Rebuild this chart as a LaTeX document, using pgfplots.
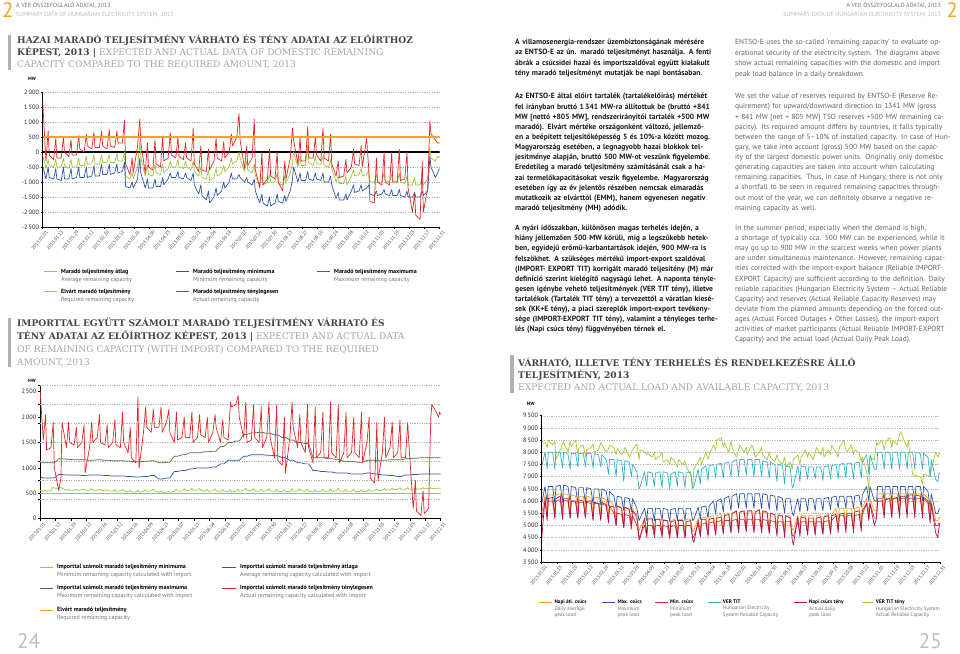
\documentclass[border=0pt]{standalone}
\usepackage{fontspec}
\setmainfont{PT Sans}
\newfontfamily\slab{DejaVu Serif}
\usepackage{pgfplots}
\usepackage{pgfplotstable}
\pgfplotsset{compat=1.18}

\definecolor{corange}{RGB}{245,165,35}
\definecolor{cred}{RGB}{224,40,42}
\definecolor{cgreen}{RGB}{160,196,55}
\definecolor{cblue}{RGB}{45,85,165}
\definecolor{colive}{RGB}{95,105,55}
\definecolor{ccyan}{RGB}{45,178,200}
\definecolor{ccrimson}{RGB}{175,22,72}
\definecolor{cred3}{RGB}{232,45,62}
\definecolor{cgreen3}{RGB}{165,200,50}
\definecolor{ctitle}{RGB}{70,70,70}
\definecolor{csub}{RGB}{165,165,165}

\newcommand\jh[1]{\makebox[205pt][s]{#1}}
\newcommand\je[1]{\makebox[208pt][s]{#1}}
\newcommand\legb{\fontsize{6}{7}\selectfont\bfseries}
\newcommand\legr{\fontsize{6}{7}\selectfont}
\newcommand\legc{\fontsize{5.2}{6.8}\selectfont}
\newcommand\legcb{\fontsize{5.2}{6.8}\selectfont\bfseries}
\newcommand\ttl{\slab\fontsize{9.1}{10}\selectfont}
\newcommand\hdr{\fontsize{6}{6.5}\selectfont}

% chart 1: domestic remaining capacity (d, actual, average, minimum)
\pgfplotstableread{
d red grn blu
0 1700 -100 -450
3 -300 -550 -900
5 700 -250 -500
6 -100 -450 -850
10 -250 -500 -900
12 450 -250 -550
13 -200 -500 -900
17 -200 -500 -950
19 500 -200 -500
20 0 -450 -900
24 -150 -550 -900
26 400 -250 -550
27 -100 -500 -900
31 -100 -500 -850
33 550 -200 -500
34 100 -450 -850
38 0 -450 -850
40 600 -150 -500
41 200 -400 -850
45 100 -400 -800
47 650 -100 -450
48 150 -400 -800
52 150 -400 -800
54 700 -100 -400
55 200 -350 -750
59 100 -350 -750
61 750 -100 -400
62 200 -350 -750
66 150 -350 -700
68 700 -50 -400
69 300 -300 -700
73 300 -300 -650
75 1050 0 -350
76 -400 -800 -1150
80 -750 -900 -1200
82 -200 -700 -1000
83 -700 -900 -1200
87 200 -500 -900
89 1100 350 -200
90 300 -200 -700
94 -700 -800 -1200
96 300 -450 -900
97 -500 -750 -1200
101 -600 -800 -1200
103 400 -400 -900
104 -400 -700 -1150
108 -500 -750 -1150
110 500 -400 -850
111 -300 -700 -1100
115 -200 -550 -900
117 650 -300 -700
118 -100 -500 -850
122 -200 -500 -850
124 500 -250 -650
125 -150 -500 -850
129 -250 -550 -900
131 300 -300 -700
132 -200 -500 -850
136 -300 -600 -950
138 800 -300 -700
139 -400 -650 -1100
143 -650 -800 -1400
145 200 -500 -1100
146 -600 -850 -1450
150 -650 -900 -1600
152 100 -600 -1300
153 -600 -950 -1700
157 -300 -850 -1500
159 450 -550 -1200
160 -200 -800 -1450
164 -300 -700 -1300
166 350 -450 -1000
167 -200 -650 -1200
171 0 -500 -1000
173 600 -200 -700
174 200 -400 -900
178 500 -300 -900
180 1280 0 -750
181 400 -200 -850
185 -550 -650 -1000
187 200 -300 -850
188 -450 -600 -1000
192 -200 -700 -1100
194 1100 -400 -900
195 -600 -800 -1300
199 -1200 -1100 -1700
201 0 -800 -1400
202 -1100 -1100 -1700
206 -900 -1000 -1800
208 100 -750 -1500
209 -800 -1000 -1800
213 -900 -1000 -1700
215 0 -700 -1400
216 -1000 -1050 -1650
220 -1300 -1100 -1700
222 -300 -800 -1450
223 -900 -1050 -1650
227 -200 -700 -1300
229 800 -400 -900
230 400 0 -500
234 -400 -500 -1000
236 500 -150 -700
237 -300 -450 -950
241 -300 -450 -950
243 850 250 -650
244 -200 -350 -900
248 -200 -450 -950
250 500 -150 -700
251 -100 -400 -900
255 -300 -400 -950
257 800 -150 -700
258 -200 -450 -1000
262 -300 -500 -1000
264 600 -250 -800
265 -400 -550 -1100
269 -800 -1000 -1550
271 -300 -800 -1350
272 -850 -1050 -1600
276 -800 -1050 -1600
278 -250 -800 -1400
279 -700 -1100 -1600
283 -500 -800 -1300
285 100 -600 -1100
286 -400 -800 -1350
290 -450 -750 -1300
292 200 -550 -1100
293 -500 -800 -1300
297 450 -750 -1200
299 -600 -600 -1100
300 -1650 -1000 -1400
304 -1700 -1000 -1450
306 -200 -750 -1300
307 -1000 -1000 -1450
311 -1100 -1000 -1400
313 0 -700 -1250
314 -1000 -950 -1400
318 -1100 -1000 -1450
320 0 -750 -1250
321 -1000 -1000 -1450
325 -1000 -1000 -1450
327 100 -700 -1250
328 -950 -1000 -1450
332 -900 -1050 -1500
334 0 -800 -1300
335 -1200 -1100 -1500
339 -2000 -1100 -1500
341 -1400 -850 -1350
342 -2100 -1100 -1500
346 -2250 -1100 -1500
348 -300 -800 -1300
349 -2000 -1100 -1450
353 -1200 -900 -1300
355 1050 150 -150
356 600 -200 -500
360 400 -300 -850
362 300 -150 -700
363 300 -200 -600
364 300 -150 -550
}\dA

% chart 2: remaining capacity with import (d, actual, minimum, average, maximum)
\pgfplotstableread{
d red mn avg mx
0 2550 560 820 1100
3 1550 540 800 1100
5 2050 560 800 1100
6 1350 540 800 1100
10 1400 560 800 1100
12 1900 620 800 1100
13 1000 600 800 1100
17 550 600 870 1180
19 800 620 870 1180
20 1900 600 870 1180
24 1400 560 860 1170
26 1900 580 860 1170
27 1500 560 860 1170
31 1450 560 860 1160
33 1800 580 860 1160
34 1400 560 860 1160
38 1500 570 850 1160
40 1850 580 850 1160
41 900 560 850 1160
45 1400 560 860 1150
47 1900 590 860 1150
48 1500 560 860 1150
52 1600 560 860 1160
54 2050 580 860 1160
55 1500 560 860 1160
59 1450 550 850 1150
61 1850 570 850 1150
62 1400 550 850 1150
66 1500 540 840 1140
68 1950 570 840 1140
69 1450 540 840 1140
73 1400 550 840 1140
75 2100 580 840 1140
76 1500 550 840 1140
80 1300 530 830 1130
82 1800 560 830 1130
83 1200 530 830 1130
87 1100 520 820 1120
89 2400 560 820 1120
90 1000 520 820 1120
94 1700 540 830 1130
96 2200 570 830 1130
97 1800 540 830 1130
101 1700 550 850 1140
103 2150 580 850 1140
104 1800 550 850 1140
108 1800 520 780 1100
110 2200 550 780 1100
111 1700 520 780 1100
115 1900 520 800 1110
117 2150 540 800 1110
118 1700 520 800 1110
122 1500 540 930 1230
124 2100 580 930 1230
125 1550 540 930 1230
129 1600 550 950 1260
131 2000 590 950 1260
132 1600 550 950 1260
136 1600 560 980 1300
138 2100 600 980 1300
139 1500 560 980 1300
143 1600 560 1000 1300
145 2050 600 1000 1300
146 1650 560 1000 1300
150 1600 540 1000 1320
152 2000 580 1000 1320
153 1500 540 1000 1320
157 1700 550 1020 1330
159 2050 590 1020 1330
160 1800 550 1020 1330
164 1500 540 1080 1420
166 1950 580 1080 1420
167 1600 540 1080 1420
171 1550 530 1150 1500
173 2300 570 1150 1500
174 2200 530 1150 1500
178 2250 540 1150 1530
180 2420 580 1150 1530
181 2000 540 1150 1530
185 1600 560 1230 1660
187 2300 600 1230 1660
188 1500 560 1230 1660
192 1550 550 1260 1690
194 2250 590 1260 1690
195 1600 550 1260 1690
199 1500 540 1260 1700
201 2200 580 1260 1700
202 1400 540 1260 1700
206 1600 550 1250 1680
208 2300 590 1250 1680
209 1600 550 1250 1680
213 1200 540 1240 1650
215 2250 580 1240 1650
216 1150 540 1240 1650
220 1050 530 1200 1600
222 2000 570 1200 1600
223 900 530 1200 1600
227 1600 540 1150 1550
229 2300 590 1150 1550
230 1800 540 1150 1550
234 1400 550 1100 1500
236 2050 590 1100 1500
237 1500 550 1100 1500
241 1300 540 1080 1480
243 2250 580 1080 1480
244 1400 540 1080 1480
248 1100 530 950 1200
250 2200 570 950 1200
251 1200 530 950 1200
255 1300 540 930 1200
257 2100 580 930 1200
258 1200 540 930 1200
262 1200 540 920 1180
264 2300 590 920 1180
265 1300 540 920 1180
269 1200 550 900 1170
271 2250 600 900 1170
272 1100 550 900 1170
276 1300 540 900 1130
278 2100 580 900 1130
279 1200 540 900 1130
283 1300 540 880 1120
285 2000 580 880 1120
286 1300 540 880 1120
290 1200 530 880 1110
292 2100 570 880 1110
293 1100 530 880 1110
297 1500 540 900 1150
299 2000 580 900 1150
300 800 540 900 1150
304 700 550 880 1150
306 1900 590 880 1150
307 750 550 880 1150
311 1300 560 860 1150
313 2000 600 860 1150
314 1200 560 860 1150
318 1400 570 850 1160
320 1900 600 850 1160
321 1200 570 850 1160
325 1300 580 830 1160
327 1950 610 830 1160
328 1200 580 830 1160
332 1200 580 860 1180
334 1900 610 860 1180
335 1500 580 860 1180
339 200 580 870 1190
341 750 610 870 1190
342 150 580 870 1190
346 60 590 880 1200
348 550 610 880 1200
349 100 590 880 1200
353 200 590 880 1200
355 2000 610 880 1200
356 2250 590 880 1200
360 2100 600 880 1200
362 2000 600 880 1200
363 2100 600 880 1200
364 2050 600 880 1200
}\dB

% chart 3: load and available capacity (d, avg peak, max peak, min peak, VER TIT, actual peak, VER TIT actual)
\pgfplotstableread{
d avg mx mn vt act vtt
0 5500 5900 5200 7400 4450 8450
3 6250 6600 6000 8000 6100 8400
5 5550 5900 5300 7300 5200 8200
6 6250 6600 6000 8000 6100 8500
10 6250 6600 6000 8000 6150 8300
12 5550 5900 5300 7300 5300 8450
13 6250 6600 6000 8000 6100 7700
17 6300 6650 6050 8000 6200 8100
19 5600 5950 5350 7350 5250 8350
20 6300 6650 6050 8000 6100 8400
24 6250 6600 6000 7950 6100 8000
26 5550 5900 5300 7300 5300 8450
27 6250 6600 6000 7950 6000 8250
31 6200 6550 5950 7950 6000 8500
33 5550 5900 5300 7400 5300 7900
34 6200 6550 5950 7950 6050 8200
38 6200 6550 5950 7950 6000 8300
40 5550 5900 5300 7400 5300 7800
41 6200 6550 5950 7950 6000 8100
45 6150 6500 5900 7950 6000 8200
47 5500 5850 5250 7350 5200 8350
48 6150 6500 5900 7950 5950 8000
52 6150 6500 5900 7900 5900 8100
54 5500 5850 5250 7400 5200 8400
55 6150 6500 5900 7900 5950 8300
59 6050 6400 5800 7700 5850 8000
61 5450 5800 5200 7100 5100 8150
62 6050 6400 5800 7700 5800 8300
66 5800 6200 5500 7700 5750 8200
68 5300 5700 5000 7000 5000 7900
69 5800 6200 5500 7700 5800 8150
73 5750 6150 5450 7650 5700 7900
75 5200 5600 4900 6800 4900 8050
76 5750 6150 5450 7650 5750 8200
80 5700 6100 5400 7600 5650 7800
82 5150 5550 4850 7000 4950 8000
83 5700 6100 5400 7500 5600 8100
87 5250 5700 5000 7200 5400 8350
89 4800 5200 4500 6500 4400 7700
90 4900 5300 4600 6600 4500 8100
94 5250 5700 5000 7200 5300 8000
96 4750 5200 4500 6600 4600 7900
97 5250 5700 5000 7200 5300 7950
101 5250 5700 5000 7150 5300 7800
103 4750 5200 4500 6600 4650 8000
104 5250 5700 5000 7150 5250 7700
108 5250 5700 5000 7200 5250 7850
110 4750 5200 4500 6550 4600 8000
111 5250 5700 5000 7200 5200 7600
115 5200 5650 4950 7150 5200 7700
117 4700 5150 4450 6500 4550 7500
118 5200 5650 4950 7100 5150 7800
122 5250 5700 5000 7200 5200 7600
124 4750 5200 4500 6600 4500 7400
125 5250 5700 5000 7200 5200 7700
129 5250 5700 5000 7150 5200 7500
131 4750 5200 4500 6550 4500 7650
132 5250 5700 5000 7150 5150 7400
136 5250 5700 5000 7200 5200 7100
138 4750 5200 4500 6500 4400 6550
139 4800 5250 4550 6600 4300 7300
143 5300 5750 5050 7300 5200 7600
145 4800 5250 4550 6700 4550 7800
146 5300 5750 5050 7300 5250 7500
150 5350 5800 5100 7450 5250 8000
152 4850 5300 4600 6850 4550 7700
153 5350 5800 5100 7450 5250 7900
157 5400 6000 5150 7500 5300 8300
159 4900 5450 4650 6950 4600 8100
160 5400 6000 5150 7500 5300 8500
164 5450 6100 5200 7550 5350 8600
166 4950 5550 4700 6950 4650 8200
167 5450 6100 5200 7550 5400 8400
171 5500 6200 5200 7600 5450 8000
173 5000 5600 4700 7000 4700 8450
174 5500 6200 5200 7600 5500 8200
178 5550 6300 5250 7700 5600 7800
180 5000 5700 4750 7000 4700 8100
181 5550 6300 5250 7700 5550 8300
185 5550 6300 5250 7700 5600 8000
187 5000 5700 4750 7050 4750 8200
188 5550 6300 5250 7700 5600 7900
192 5550 6300 5250 7700 5600 8300
194 5000 5700 4750 7000 4700 8100
195 5550 6300 5250 7700 5550 7800
199 5550 6300 5250 7700 5650 8000
201 5000 5700 4750 7000 4700 8200
202 5550 6300 5250 7650 5600 7900
206 5500 6250 5200 7600 5550 7700
208 4950 5650 4700 6950 4650 8000
209 5500 6250 5200 7600 5500 7800
213 5450 6200 5150 7500 5450 7600
215 4950 5600 4650 6800 4550 7900
216 5450 6200 5150 7500 5400 7700
220 5400 6100 5150 7450 5400 7500
222 4900 5500 4650 6700 4500 7800
223 5400 6100 5150 7450 5400 7400
227 5400 6100 5150 7400 5300 7600
229 4850 5500 4600 6550 4400 7300
230 4800 5400 4550 6600 4200 7700
234 5400 6100 5150 7450 5350 7900
236 4900 5550 4650 6800 4550 7500
237 5400 6100 5150 7450 5350 7800
241 5400 6100 5150 7400 5300 8100
243 4900 5600 4650 6900 4600 7800
244 5400 6100 5150 7400 5300 8000
248 5400 6100 5150 7400 5300 7700
250 4900 5600 4650 6900 4600 8000
251 5400 6100 5150 7400 5300 8200
255 5400 6100 5150 7400 5350 7900
257 4900 5600 4650 6850 4650 8200
258 5400 6100 5150 7400 5350 7800
262 5450 6150 5200 7450 5400 8100
264 4950 5650 4700 6900 4650 7900
265 5450 6150 5200 7450 5400 8300
269 5700 6200 5400 7500 5450 8000
271 5150 5700 4900 6900 4700 7800
272 5700 6200 5400 7500 5450 8200
276 5700 6200 5400 7550 5500 8500
278 5150 5700 4900 6950 4700 8100
279 5700 6200 5400 7550 5500 8000
283 5700 6200 5400 7550 5500 8300
285 5150 5700 4900 6900 4700 7900
286 5700 6200 5400 7550 5550 8100
290 5750 6250 5450 7600 5600 8000
292 5200 5750 4950 6950 4750 7600
293 5750 6250 5450 7600 5600 7800
297 6100 6600 5900 7900 5900 7200
299 5500 6000 5300 7100 5200 6500
300 6100 6600 5900 7900 5900 7800
304 5600 6000 5300 7300 5000 7700
306 5600 6000 5300 7300 5300 8400
307 6300 6600 6100 8000 6000 8300
311 6300 6600 6100 8000 6000 8500
313 5700 6000 5500 7300 5300 8100
314 6300 6600 6100 8000 6050 8400
318 6300 6600 6100 8000 6100 8600
320 5700 6000 5500 7300 5300 8200
321 6300 6600 6100 8000 6100 8500
325 6300 6600 6100 8000 6150 8300
327 5700 6000 5500 7300 5300 8700
328 6300 6600 6100 8000 6200 8850
332 6300 6600 6100 8000 6200 8400
334 5700 6000 5500 7300 5300 8200
335 6300 6600 6100 8000 6250 8500
339 6300 6600 6100 8000 6250 7100
341 5700 6000 5500 7300 5300 7000
342 6300 6600 6100 8000 6250 7050
346 6300 6600 6100 7950 6200 7000
348 5700 6000 5500 7300 5300 6700
349 6300 6600 6100 7950 6150 7100
353 6100 6400 5900 7800 6000 7050
355 5400 5700 5200 7000 5100 7000
356 6000 6300 5800 7700 5900 7300
360 5200 5500 5000 6900 4700 8000
362 5200 5500 5000 6800 4500 7800
363 5300 5650 5100 7100 4900 7900
364 5350 5700 5100 7150 5100 8000
}\dC

\pgfplotsset{
  vchart/.style={
    scale only axis,
    axis x line*=bottom, axis y line*=left,
    axis line style={black, line width=0.9pt},
    xmin=0, xmax=364,
    xtick={0,14,...,364},
    xticklabels={2013.01.01,2013.01.15,2013.01.29,2013.02.12,2013.02.26,2013.03.12,2013.03.26,2013.04.09,2013.04.23,2013.05.07,2013.05.21,2013.06.04,2013.06.18,2013.07.02,2013.07.16,2013.07.30,2013.08.13,2013.08.27,2013.09.10,2013.09.24,2013.10.08,2013.10.22,2013.11.05,2013.11.19,2013.12.03,2013.12.17,2013.12.31},
    x tick label style={rotate=50, anchor=east, font=\fontsize{4.8}{5.5}\selectfont, inner sep=0.5pt, yshift=-5pt, xshift=1.5pt, text=black!75},
    y tick label style={font=\fontsize{6.3}{7}\selectfont, inner sep=1.5pt, text=black!85},
    tick align=outside, major tick length=2pt,
    tick style={black, line width=0.5pt},
    grid style={dash pattern=on 1.2pt off 1.2pt, black!30, line width=0.4pt},
    /pgf/number format/1000 sep={\,},
    /pgf/number format/assume math mode=true,
    every axis plot/.append style={line width=0.7pt, line join=round},
  }
}

\begin{document}
\begin{tikzpicture}
\path[use as bounding box] (0,0) rectangle (960pt,653pt);

% ---------- chart 1
\begin{axis}[vchart, at={(42.7pt,426pt)}, anchor=south west,
  width=397pt, height=135pt,
  ymin=-2500, ymax=2000, ytick={-2500,-2000,...,2000}, ymajorgrids]
\addplot[black, line width=1.2pt] coordinates {(0,0) (364,0)};
\addplot[cgreen] table[x=d, y=grn] {\dA};
\addplot[cblue] table[x=d, y=blu] {\dA};
\addplot[cred] table[x=d, y=red] {\dA};
\addplot[corange, line width=1.2pt] coordinates {(0,500) (364,500)};
\end{axis}

% ---------- chart 2
\begin{axis}[vchart, at={(40pt,134.3pt)}, anchor=south west,
  width=400.7pt, height=133.3pt,
  ymin=0, ymax=2625, ytick={0,500,...,2500},
  extra y ticks={375,750,...,2625}, extra y tick labels={},
  extra y tick style={grid=major}]
\addplot[colive] table[x=d, y=mx] {\dB};
\addplot[cblue] table[x=d, y=avg] {\dB};
\addplot[corange, line width=1.2pt] coordinates {(0,500) (364,500)};
\addplot[cgreen] table[x=d, y=mn] {\dB};
\addplot[cred] table[x=d, y=red] {\dB};
\end{axis}

% ---------- chart 3
\begin{axis}[vchart, at={(541.7pt,91pt)}, anchor=south west,
  width=398.3pt, height=146.3pt,
  ymin=3500, ymax=9500, ytick={3500,4000,...,9500}, ymajorgrids]
\addplot[cgreen3] table[x=d, y=vtt] {\dC};
\addplot[ccyan] table[x=d, y=vt] {\dC};
\addplot[cblue] table[x=d, y=mx] {\dC};
\addplot[corange] table[x=d, y=avg] {\dC};
\addplot[cred3] table[x=d, y=mn] {\dC};
\addplot[ccrimson] table[x=d, y=act] {\dC};
\end{axis}

\begin{scope}[x=1pt, y=-1pt, yshift=653pt]
% page headers
\node[anchor=west, inner sep=0, text=corange, font=\fontsize{21}{21}\selectfont] at (2,10.5) {2};
\node[anchor=base west, inner sep=0, text=black!55, font=\hdr] at (16,8) {A VER ÖSSZEFOGLALÓ ADATAI, 2013};
\node[anchor=base west, inner sep=0, text=black!28, font=\hdr] at (16,16.5) {SUMMARY DATA OF HUNGARIAN ELECTRICITY SYSTEM, 2013};
\node[anchor=east, inner sep=0, text=corange, font=\fontsize{21}{21}\selectfont] at (958,10.5) {2};
\node[anchor=base east, inner sep=0, text=black!55, font=\hdr] at (941,8) {A VER ÖSSZEFOGLALÓ ADATAI, 2013};
\node[anchor=base east, inner sep=0, text=black!28, font=\hdr] at (941,16.5) {SUMMARY DATA OF HUNGARIAN ELECTRICITY SYSTEM, 2013};

% page numbers
\node[anchor=west, inner sep=0, text=black!25, font=\fontsize{21}{21}\selectfont] at (17,641.5) {24};
\node[anchor=east, inner sep=0, text=black!25, font=\fontsize{21}{21}\selectfont] at (942,641.5) {25};

% chart titles
\fill[black!30] (7.5,35) rectangle (11,70);
\node[anchor=west, inner sep=0, font=\ttl\bfseries, text=ctitle] at (17,40) {HAZAI MARADÓ TELJESÍTMÉNY VÁRHATÓ ÉS TÉNY ADATAI AZ ELŐÍRTHOZ};
\node[anchor=west, inner sep=0, font=\ttl, text=csub] at (17,52.3) {\textcolor{ctitle}{\bfseries KÉPEST, 2013 |} EXPECTED AND ACTUAL DATA OF DOMESTIC REMAINING};
\node[anchor=west, inner sep=0, font=\ttl, text=csub] at (17,64.6) {CAPACITY COMPARED TO THE REQUIRED AMOUNT, 2013};

\fill[black!30] (7.5,318) rectangle (11,367);
\node[anchor=west, inner sep=0, font=\ttl\bfseries, text=ctitle] at (17,323.3) {IMPORTTAL EGYÜTT SZÁMOLT MARADÓ TELJESÍTMÉNY VÁRHATÓ ÉS};
\node[anchor=west, inner sep=0, font=\ttl, text=csub] at (17,336.3) {\textcolor{ctitle}{\bfseries TÉNY ADATAI AZ ELŐÍRTHOZ KÉPEST, 2013 |} EXPECTED AND ACTUAL DATA};
\node[anchor=west, inner sep=0, font=\ttl, text=csub] at (17,349.3) {OF REMAINING CAPACITY (WITH IMPORT) COMPARED TO THE REQUIRED};
\node[anchor=west, inner sep=0, font=\ttl, text=csub] at (17,362.3) {AMOUNT, 2013};

\fill[black!30] (510,355) rectangle (513.5,393);
\node[anchor=west, inner sep=0, font=\ttl\bfseries, text=ctitle] at (518,363) {VÁRHATÓ, ILLETVE TÉNY TERHELÉS ÉS RENDELKEZÉSRE ÁLLÓ};
\node[anchor=west, inner sep=0, font=\ttl\bfseries, text=ctitle] at (518,375) {TELJESÍTMÉNY, 2013};
\node[anchor=west, inner sep=0, font=\ttl, text=csub] at (518,387.3) {EXPECTED AND ACTUAL LOAD AND AVAILABLE CAPACITY, 2013};

% MW labels
\node[inner sep=0, font=\fontsize{4.6}{5}\selectfont\bfseries] at (32,79) {MW};
\node[inner sep=0, font=\fontsize{4.6}{5}\selectfont\bfseries] at (32,380.7) {MW};
\node[inner sep=0, font=\fontsize{4.6}{5}\selectfont\bfseries] at (530.7,404) {MW};

% legend chart 1
\draw[cgreen, line width=1pt] (44,272) -- (57,272);
\node[anchor=west, inner sep=0, font=\legb] at (61,272) {Maradó teljesítmény átlag};
\node[anchor=west, inner sep=0, font=\legr, text=black!55] at (61,279.7) {Average remaining capacity};
\draw[cblue, line width=1pt] (176,272) -- (189,272);
\node[anchor=west, inner sep=0, font=\legb] at (193,272) {Maradó teljesítmény minimuma};
\node[anchor=west, inner sep=0, font=\legr, text=black!55] at (193,279.7) {Minimum remaining capacity};
\draw[colive, line width=1pt] (317,272) -- (330,272);
\node[anchor=west, inner sep=0, font=\legb] at (334,272) {Maradó teljesítmény maximuma};
\node[anchor=west, inner sep=0, font=\legr, text=black!55] at (334,279.7) {Maximum remaining capacity};
\draw[corange, line width=1pt] (44,292) -- (57,292);
\node[anchor=west, inner sep=0, font=\legb] at (61,292) {Elvárt maradó teljesítmény};
\node[anchor=west, inner sep=0, font=\legr, text=black!55] at (61,299.7) {Required remaining capacity};
\draw[cred, line width=1pt] (176,292) -- (189,292);
\node[anchor=west, inner sep=0, font=\legb] at (193,292) {Maradó teljesítmény ténylegesen};
\node[anchor=west, inner sep=0, font=\legr, text=black!55] at (193,299.7) {Actual remaining capacity};

% legend chart 2
\draw[cgreen, line width=1pt] (40,567.3) -- (53,567.3);
\node[anchor=west, inner sep=0, font=\legb] at (57,567.3) {Importtal számolt maradó teljesítmény minimuma};
\node[anchor=west, inner sep=0, font=\legr, text=black!55] at (57,575) {Minimum remaining capacity calculated with import};
\draw[cblue, line width=1pt] (222,567.3) -- (236,567.3);
\node[anchor=west, inner sep=0, font=\legb] at (240,567.3) {Importtal számolt maradó teljesítmény átlaga};
\node[anchor=west, inner sep=0, font=\legr, text=black!55] at (240,575) {Average remaining capacity calculated with import};
\draw[colive, line width=1pt] (40,588.3) -- (53,588.3);
\node[anchor=west, inner sep=0, font=\legb] at (57,588.3) {Importtal számolt maradó teljesítmény maximuma};
\node[anchor=west, inner sep=0, font=\legr, text=black!55] at (57,596) {Maximum remaining capacity calculated with import};
\draw[cred, line width=1pt] (222,588.3) -- (236,588.3);
\node[anchor=west, inner sep=0, font=\legb] at (240,588.3) {Importtal számolt maradó teljesítmény ténylegesen};
\node[anchor=west, inner sep=0, font=\legr, text=black!55] at (240,596) {Actual remaining capacity calculated with import};
\draw[corange, line width=1pt] (40,610) -- (53,610);
\node[anchor=west, inner sep=0, font=\legb] at (57,610) {Elvárt maradó teljesítmény};
\node[anchor=west, inner sep=0, font=\legr, text=black!55] at (57,617.7) {Required remaining capacity};

% legend chart 3
\draw[corange, line width=1pt] (539,602.3) -- (551.5,602.3);
\node[anchor=north west, inner sep=0, align=left, font=\legc, text=black!55] at (554.3,599.3) {\textcolor{black}{\legcb Napi átl. csúcs}\\Daily average\\peak load};
\draw[cblue, line width=1pt] (602,602.3) -- (614.5,602.3);
\node[anchor=north west, inner sep=0, align=left, font=\legc, text=black!55] at (617.3,599.3) {\textcolor{black}{\legcb Max. csúcs}\\Maximum\\peak load};
\draw[cred3, line width=1pt] (655,602.3) -- (667.5,602.3);
\node[anchor=north west, inner sep=0, align=left, font=\legc, text=black!55] at (670,599.3) {\textcolor{black}{\legcb Min. csúcs}\\Minimum\\peak load};
\draw[ccyan, line width=1pt] (708,602.3) -- (720.5,602.3);
\node[anchor=north west, inner sep=0, align=left, font=\legc, text=black!55] at (722.7,599.3) {\textcolor{black}{\legcb VER TIT}\\Hungarian Electricity\\System Reliable Capacity};
\draw[ccrimson, line width=1pt] (794,602.3) -- (806.5,602.3);
\node[anchor=north west, inner sep=0, align=left, font=\legc, text=black!55] at (809,599.3) {\textcolor{black}{\legcb Napi csúcs tény}\\Actual daily\\peak load};
\draw[cgreen3, line width=1pt] (862,602.3) -- (874,602.3);
\node[anchor=north west, inner sep=0, align=left, font=\legc, text=black!55] at (875.7,599.3) {\textcolor{black}{\legcb VER TIT tény}\\Hungarian Electricity System\\Actual Reliable Capacity};

% body text, Hungarian
\node[anchor=north west, inner sep=0, text width=205pt, align=left, text=black!90,
  font=\fontsize{7.6}{10.6}\selectfont\bfseries] at (515,38.5) {%
\jh{A villamosenergia-rendszer üzembiztonságának mérésére}\\
\jh{az ENTSO-E az ún. maradó teljesítményt használja. A fenti}\\
\jh{ábrák a csúcsidei hazai és importszaldóval együtt kialakult}\\
tény maradó teljesítményt mutatják be napi bontásaban.};
\node[anchor=north west, inner sep=0, text width=205pt, align=left, text=black!90,
  font=\fontsize{7.6}{10.13}\selectfont\bfseries] at (515,93.3) {%
\jh{Az ENTSO-E által előírt tartalék (tartalékelőírás) mértékét}\\
\jh{fel irányban bruttó 1\,341 MW-ra állítottuk be (bruttó +841}\\
\jh{MW [nettó +805 MW], rendszerirányítói tartalék +500 MW}\\
\jh{maradó). Elvárt mértéke országonként változó, jellemző-}\\
\jh{en a beépített teljesítőképesség 5 és 10\%-a között mozog.}\\
\jh{Magyarország esetében, a legnagyobb hazai blokkok tel-}\\
\jh{jesítménye alapján, bruttó 500 MW-ot veszünk figyelembe.}\\
\jh{Eredetileg a maradó teljesítmény számításánál csak a ha-}\\
\jh{zai termelőkapacitásokat veszik figyelembe. Magyarország}\\
\jh{esetében így az év jelentős részében nemcsak elmaradás}\\
\jh{mutatkozik az elvárttól (EMM), hanem egyenesen negatív}\\
maradó teljesítmény (MH) adódik.};
\node[anchor=north west, inner sep=0, text width=205pt, align=left, text=black!90,
  font=\fontsize{7.6}{10.13}\selectfont\bfseries] at (515,225) {%
\jh{A nyári időszakban, különösen magas terhelés idején, a}\\
\jh{hiány jellemzően 500 MW körüli, míg a legszűkebb hetek-}\\
\jh{ben, egyidejű erőmű-karbantartások idején, 900 MW-ra is}\\
\jh{felszökhet. A szükséges mértékű import-export szaldóval}\\
\jh{(IMPORT- EXPORT TIT) korrigált maradó teljesítény (M) már}\\
\jh{definíció szerint kielégítő nagyságú lehet. A naponta tényle-}\\
\jh{gesen igénybe vehető teljesítmények (VER TIT tény), illetve}\\
\jh{tartalékok (Tartalék TIT tény) a tervezettől a váratlan kiesé-}\\
\jh{sek (KK+E tény), a piaci szereplők import-export tevékeny-}\\
\jh{sége (IMPORT-EXPORT TIT tény), valamint a tényleges terhe-}\\
lés (Napi csúcs tény) függvényében térnek el.};

% body text, English
\node[anchor=north west, inner sep=0, text width=208pt, align=left, text=black!62,
  font=\fontsize{7.4}{10.6}\selectfont] at (735,38.5) {%
\je{ENTSO-E uses the so-called ‘remaining capacity’ to evaluate op-}\\
\je{erational security of the electricity system. The diagrams above}\\
\je{show actual remaining capacities with the domestic and import}\\
peak load balance in a daily breakdown.};
\node[anchor=north west, inner sep=0, text width=208pt, align=left, text=black!62,
  font=\fontsize{7.4}{10.13}\selectfont] at (735,93.3) {%
\je{We set the value of reserves required by ENTSO-E (Reserve Re-}\\
\je{quirement) for upward/downward direction to 1341 MW (gross}\\
\je{+ 841 MW [net + 805 MW] TSO reserves +500 MW remaining ca-}\\
\je{pacity). Its required amount differs by countries, it falls typically}\\
\je{between the range of 5–10\% of installed capacity. In case of Hun-}\\
\je{gary, we take into account (gross) 500 MW based on the capac-}\\
\je{ity of the largest domestic power units. Originally only domestic}\\
\je{generating capacities are taken into account when calculating}\\
\je{remaining capacities. Thus, in case of Hungary, there is not only}\\
\je{a shortfall to be seen in required remaining capacities through-}\\
\je{out most of the year, we can definitely observe a negative re-}\\
maining capacity as well.};
\node[anchor=north west, inner sep=0, text width=208pt, align=left, text=black!62,
  font=\fontsize{7.4}{10.13}\selectfont] at (735,225) {%
\je{In the summer period, especially when the demand is high,}\\
\je{a shortage of typically cca. 500 MW can be experienced, while it}\\
\je{may go up to 900 MW in the scarcest weeks when power plants}\\
\je{are under simultaneous maintenance. However, remaining capac-}\\
\je{ities corrected with the import-export balance (Reliable IMPORT-}\\
\je{EXPORT Capacity) are sufficient according to the definition. Daily}\\
\je{reliable capacities (Hungarian Electricity System – Actual Reliable}\\
\je{Capacity) and reserves (Actual Reliable Capacity Reserves) may}\\
\je{deviate from the planned amounts depending on the forced out-}\\
\je{ages (Actual Forced Outages + Other Losses), the import-export}\\
\je{activities of market participants (Actual Reliable IMPORT-EXPORT}\\
Capacity) and the actual load (Actual Daily Peak Load).};
\end{scope}
\end{tikzpicture}
\end{document}
